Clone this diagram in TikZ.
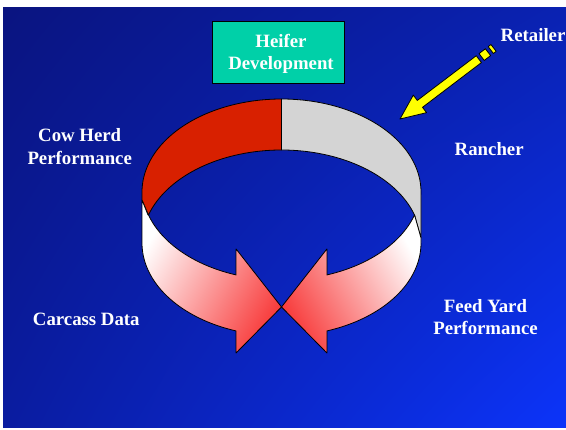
\documentclass[tikz,border=0pt]{standalone}
\usepackage{fontspec}
\setmainfont{Liberation Serif}
\usetikzlibrary{shadings}
\definecolor{bandred}{RGB}{216,32,0}
\definecolor{bandgray}{RGB}{212,212,212}
\definecolor{arrowred}{RGB}{248,62,62}
\definecolor{heiferfill}{RGB}{0,208,168}
\definecolor{bgUL}{RGB}{10,20,128}
\definecolor{bgUR}{RGB}{10,34,178}
\definecolor{bgLL}{RGB}{10,28,160}
\definecolor{bgLR}{RGB}{12,52,250}
\definecolor{arrowyellow}{RGB}{255,255,0}
\begin{document}
\begin{tikzpicture}[x=1pt,y=-1pt]
\tikzset{
  outl/.style={draw=black, line width=0.8pt, line join=round},
  lbl/.style={text=white, font=\fontsize{18.8}{22.6}\selectfont\bfseries, align=center, inner sep=0pt},
}
\useasboundingbox (0,0) rectangle (566,430);
\fill[white] (0,0) rectangle (566,430);
\fill[upper left=bgUL, upper right=bgUR, lower left=bgLL, lower right=bgLR] (3,8) rectangle (566,428);

% back wall, inner surface (red half)
\path[outl, fill=bandred]
  plot[domain=180:270, samples=50] ({281.5+139.5*cos(\x)},{192+93*sin(\x)})
  -- (281.5,150)
  -- plot[domain=270:197.5, samples=50] ({281.5+139.5*cos(\x)},{243+93*sin(\x)})
  -- (142,200) -- cycle;
% back wall, inner surface (gray half)
\path[outl, fill=bandgray]
  plot[domain=270:360, samples=50] ({281.5+139.5*cos(\x)},{192+93*sin(\x)})
  -- (421,238)
  -- plot[domain=342.5:270, samples=50] ({281.5+139.5*cos(\x)},{243+93*sin(\x)})
  -- cycle;

% left front arrow
\path[outl, top color=white, bottom color=arrowred, shading angle=60]
  (142,200) -- (148,215)
  -- plot[domain=162.5:109, samples=50] ({281.5+139.5*cos(\x)},{187+93*sin(\x)})
  -- (236.1,249) -- (281.5,307) -- (236.1,353)
  -- plot[domain=109:180, samples=50] ({281.5+139.5*cos(\x)},{243+93*sin(\x)})
  -- cycle;
% right front arrow
\path[outl, top color=white, bottom color=arrowred, shading angle=-60]
  (421,238) -- (421,243)
  -- plot[domain=0:71, samples=50] ({281.5+139.5*cos(\x)},{243+93*sin(\x)})
  -- (326.9,353) -- (281.5,307) -- (326.9,249)
  -- plot[domain=71:17.5, samples=50] ({281.5+139.5*cos(\x)},{187+93*sin(\x)})
  -- cycle;

% Heifer box
\node[outl, fill=heiferfill, minimum width=131.3, minimum height=61.6, inner sep=0pt] (heifer) at (278.3,52.5) {};
\node[lbl, anchor=base] (heifertext) at (281,69.8) {Heifer\\Development};

% yellow arrow from Retailer
\begin{scope}[shift={(400,119)}, rotate=37.2]
  \path[outl, fill=arrowyellow] (0,0) -- (25,11) -- (25,4.3) -- (99,4.3) -- (99,-4.3) -- (25,-4.3) -- (25,-11) -- cycle;
  \path[outl, fill=arrowyellow] (102.5,4.3) rectangle (110.5,-4.3);
  \path[outl, fill=arrowyellow] (114,4.3) rectangle (117.5,-4.3);
\end{scope}

% labels (base anchor = baseline of last line)
\node[lbl, anchor=base] (cow) at (79.7,164.3) {Cow Herd\\Performance};
\node[lbl, anchor=base] (carcass) at (86.3,326) {Carcass Data};
\node[lbl, anchor=base] (feed) at (485.5,335) {Feed Yard\\Performance};
\node[lbl, anchor=base] (rancher) at (489.2,156) {Rancher};
\node[lbl, anchor=base west] (retailer) at (500.5,41.7) {Retailer};
\end{tikzpicture}
\end{document}
